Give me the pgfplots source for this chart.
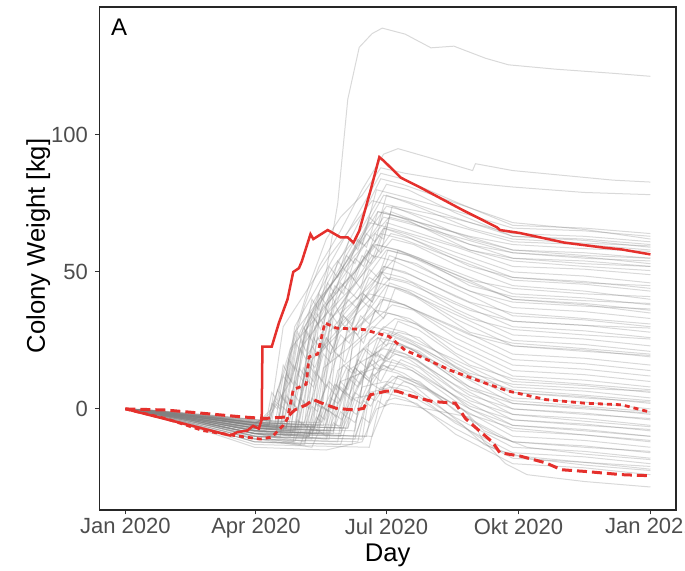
\documentclass[border=0pt]{standalone}
\usepackage{fontspec}
\setmainfont{Liberation Sans}
\usepackage{pgfplots}
\pgfplotsset{compat=1.18}
\definecolor{redline}{HTML}{E5302C}
\definecolor{ticktext}{HTML}{4D4D4D}
\pgfplotsset{gl/.style={color=black!50, line width=0.5pt, opacity=0.3, mark=none}}
\begin{document}
\begin{tikzpicture}
\begin{axis}[
  width=288.35pt, height=251.5pt, scale only axis,
  xmin=-18.2, xmax=383.8, ymin=-36.9, ymax=146.7,
  xtick={0,91,182,274,366},
  xticklabels={Jan 2020,Apr 2020,Jul 2020,Okt 2020,Jan 2021},
  ytick={0,50,100},
  tick align=outside, tick pos=left, major tick length=2.2pt,
  tick style={black!80, line width=0.5pt},
  axis line style={black!85, line width=0.6pt},
  ticklabel style={font=\fontsize{11}{13}\selectfont, text=ticktext},
  xticklabel style={yshift=1.5pt},
  /pgf/number format/assume math mode=true,
  xlabel={Day}, ylabel={Colony Weight [kg]},
  every axis x label/.style={at={(axis description cs:0.5,0)}, yshift=-22.5pt, anchor=center, font=\fontsize{12.8}{15}\selectfont},
  every axis y label/.style={at={(axis description cs:0,0.525)}, xshift=-30.5pt, rotate=90, anchor=center, font=\fontsize{12.8}{15}\selectfont},
]
% individual colonies
\addplot[gl] coordinates {(0,0)(30,-2)(60,-3)(90,-5)(100,-3)(115,10)(130,35)(140,50)(148,75)(155,113)(163,132)(172,137)(179,139)(195,136.8)(213,131.8)(229,132.4)(251,128)(267,125.6)(300,124)(340,122.5)(366,121.4)};
\addplot[gl] coordinates {(0,0)(30,-1.5)(60,-3.5)(90,-5.5)(100,-2)(112,15)(125,38)(135,52)(150,65)(165,80)(180,93)(190,95)(210,92)(242,87)(244,89.5)(270,87)(310,85)(340,83.5)(366,82.8)};
\addplot[gl] coordinates {(0,0)(30,-2)(60,-4)(90,-6)(102,0)(115,22)(128,45)(140,62)(150,70)(165,78)(178,88)(195,86)(230,83)(270,81)(320,79)(366,78.2)};
\addplot[gl] coordinates {(0,0)(20,-1.2)(45,-2.7)(70,-4.5)(90,-6)(105,-7)(110,7)(115,20)(130,38)(145,52)(160,62)(165,60)(175,80)(190,78)(230,72.3)(270,66)(320,65)(366,63)};
\addplot[gl] coordinates {(0,0)(20,-1.4)(45,-3.2)(70,-5.3)(90,-7)(110,-8)(115,8.5)(120,25)(149,54)(178,84)(193,82)(230,75.2)(270,68)(320,65.5)(366,62)};
\addplot[gl] coordinates {(0,0)(20,-1)(45,-2.3)(70,-3.8)(90,-5)(100,-6)(105,12)(110,30)(141,55)(172,76)(187,74)(230,69.4)(270,64)(320,63)(366,61)};
\addplot[gl] coordinates {(0,0)(20,-1.6)(45,-3.6)(70,-6)(90,-8)(115,-9)(120,10.5)(125,30)(152,52)(180,78)(195,76)(230,69.8)(270,63)(320,62)(366,60)};
\addplot[gl] coordinates {(0,0)(20,-1.2)(45,-2.7)(70,-4.5)(90,-6)(120,-7)(125,14)(130,35)(156,55)(182,74)(197,72)(230,66.9)(270,61)(320,60)(366,58)};
\addplot[gl] coordinates {(0,0)(20,-1.8)(45,-4)(70,-6.8)(90,-9)(108,-10)(113,9)(118,28)(147,48)(176,72)(191,70)(230,64.3)(270,58)(320,57)(366,55)};
\addplot[gl] coordinates {(0,0)(20,-0.8)(45,-1.8)(70,-3)(90,-4)(125,-5)(130,17.5)(135,40)(160,56)(184,70)(199,68)(230,61.8)(270,55)(320,54)(366,52)};
\addplot[gl] coordinates {(0,0)(20,-1.4)(45,-3.2)(70,-5.3)(90,-7)(118,-8)(123,8.5)(128,25)(149,47)(170,68)(185,66)(230,59.2)(270,52)(320,51)(366,49)};
\addplot[gl] coordinates {(0,0)(20,-2)(45,-4.5)(70,-7.5)(90,-10)(130,-11)(135,13.5)(140,38)(160,50)(180,66)(195,64)(230,57.2)(270,50)(320,48.5)(366,46)};
\addplot[gl] coordinates {(0,0)(20,-1.2)(45,-2.7)(70,-4.5)(90,-6)(112,-7)(117,7.5)(122,22)(150,42)(178,64)(193,62)(230,54.7)(270,47)(320,45.5)(366,43)};
\addplot[gl] coordinates {(0,0)(20,-1.6)(45,-3.6)(70,-6)(90,-8)(122,-9)(127,10.5)(132,30)(159,45)(186,62)(201,60)(230,52.7)(270,45)(320,43)(366,40)};
\addplot[gl] coordinates {(0,0)(20,-1)(45,-2.3)(70,-3.8)(90,-5)(135,-6)(140,18.5)(145,42)(160,50)(175,60)(190,58)(230,50.1)(270,42)(320,40.5)(366,38)};
\addplot[gl] coordinates {(0,0)(20,-1.8)(45,-4)(70,-6.8)(90,-9)(128,-10)(133,10)(138,30)(160,42)(182,58)(197,56)(230,48.1)(270,40)(320,38)(366,35)};
\addplot[gl] coordinates {(0,0)(20,-1.4)(45,-3.2)(70,-5.3)(90,-7)(140,-8)(145,13.5)(150,35)(169,44)(188,55)(203,53)(230,45.1)(270,37)(320,35.5)(366,33)};
\addplot[gl] coordinates {(0,0)(20,-2.2)(45,-5)(70,-8.3)(90,-11)(117,-12)(122,4)(127,20)(150,38)(172,56)(187,54)(230,43.9)(270,34)(320,32.5)(366,30)};
\addplot[gl] coordinates {(0,0)(20,-1.2)(45,-2.7)(70,-4.5)(90,-6)(132,-7)(137,10.5)(142,28)(161,40)(180,52)(195,50)(230,41)(270,32)(320,30.5)(366,28)};
\addplot[gl] coordinates {(0,0)(20,-1.6)(45,-3.6)(70,-6)(90,-8)(145,-9)(150,11.5)(155,32)(166,40)(178,50)(193,48)(230,39)(270,30)(320,28.5)(366,26)};
\addplot[gl] coordinates {(0,0)(20,-2.4)(45,-5.4)(70,-9)(90,-12)(125,-13)(130,3.5)(135,20)(160,34)(185,48)(200,46)(230,36.5)(270,27)(320,25.5)(366,23)};
\addplot[gl] coordinates {(0,0)(20,-1)(45,-2.3)(70,-3.8)(90,-5)(138,-6)(143,12)(148,30)(162,38)(176,46)(191,44)(230,34.5)(270,25)(320,23.5)(366,21)};
\addplot[gl] coordinates {(0,0)(20,-1.8)(45,-4)(70,-6.8)(90,-9)(150,-10)(155,10)(160,30)(171,37)(182,45)(197,43)(230,32.9)(270,23)(320,21.5)(366,19)};
\addplot[gl] coordinates {(0,0)(20,-1.4)(45,-3.2)(70,-5.3)(90,-7)(120,-8)(125,5)(130,18)(150,30)(170,42)(185,40)(230,29.9)(270,20)(320,18.5)(366,16)};
\addplot[gl] coordinates {(0,0)(20,-2)(45,-4.5)(70,-7.5)(90,-10)(142,-11)(147,7)(152,25)(166,32)(180,40)(195,38)(230,27.9)(270,18)(320,16.5)(366,14)};
\addplot[gl] coordinates {(0,0)(20,-1.2)(45,-2.7)(70,-4.5)(90,-6)(155,-7)(160,10.5)(165,28)(175,33)(186,38)(201,36)(230,25.9)(270,16)(320,14.5)(366,12)};
\addplot[gl] coordinates {(0,0)(20,-1.6)(45,-3.6)(70,-6)(90,-8)(133,-9)(138,5.5)(143,20)(159,28)(175,36)(190,34)(230,23.9)(270,14)(320,12.5)(366,10)};
\addplot[gl] coordinates {(0,0)(20,-2.2)(45,-5)(70,-8.3)(90,-11)(148,-12)(153,5)(158,22)(170,28)(183,35)(198,33)(230,22.4)(270,12)(320,10.5)(366,8)};
\addplot[gl] coordinates {(0,0)(20,-1.4)(45,-3.2)(70,-5.3)(90,-7)(160,-8)(165,8.5)(170,25)(179,29)(188,33)(203,31)(230,20.4)(270,10)(320,8.5)(366,6)};
\addplot[gl] coordinates {(0,0)(20,-1.8)(45,-4)(70,-6.8)(90,-9)(128,-10)(133,2.5)(138,15)(155,22)(172,30)(187,28)(230,17.9)(270,8)(320,6.5)(366,4)};
\addplot[gl] coordinates {(0,0)(20,-1.2)(45,-2.7)(70,-4.5)(90,-6)(152,-7)(157,6.5)(162,20)(171,25)(180,30)(195,28)(230,16.8)(270,6)(320,4.5)(366,2)};
\addplot[gl] coordinates {(0,0)(20,-2)(45,-4.5)(70,-7.5)(90,-10)(165,-11)(170,5.5)(175,22)(182,25)(190,28)(205,26)(230,15.2)(270,4)(320,2.5)(366,0)};
\addplot[gl] coordinates {(0,0)(20,-1.6)(45,-3.6)(70,-6)(90,-8)(138,-9)(143,2.5)(148,14)(162,20)(176,26)(191,24)(230,13.3)(270,2)(320,0.5)(366,-2)};
\addplot[gl] coordinates {(0,0)(20,-2.4)(45,-5.4)(70,-9)(90,-12)(158,-13)(163,2.5)(168,18)(176,21)(184,24)(199,22)(230,10.8)(270,0)(320,-1.5)(366,-4)};
\addplot[gl] coordinates {(0,0)(20,-1.4)(45,-3.2)(70,-5.3)(90,-7)(145,-8)(150,3)(155,14)(167,18)(180,22)(195,20)(230,8.8)(270,-2)(320,-3.5)(366,-6)};
\addplot[gl] coordinates {(0,0)(20,-1.8)(45,-4)(70,-6.8)(90,-9)(168,-10)(173,3)(178,16)(183,18)(188,20)(203,18)(230,6.8)(270,-4)(320,-5.5)(366,-8)};
\addplot[gl] coordinates {(0,0)(20,-1)(45,-2.3)(70,-3.8)(90,-5)(150,-6)(155,3)(160,12)(169,15)(178,18)(193,16)(230,4.8)(270,-6)(320,-7.5)(366,-10)};
\addplot[gl] coordinates {(0,0)(20,-2.2)(45,-5)(70,-8.3)(90,-11)(162,-12)(167,0)(172,12)(178,14)(185,16)(200,14)(230,2.8)(270,-8)(320,-9.5)(366,-12)};
\addplot[gl] coordinates {(0,0)(20,-1.6)(45,-3.6)(70,-6)(90,-8)(140,-9)(145,0.5)(150,10)(162,12.5)(175,15)(190,13)(230,1.3)(270,-10)(320,-11.5)(366,-14)};
\addplot[gl] coordinates {(0,0)(20,-2.6)(45,-5.9)(70,-9.8)(90,-13)(170,-14)(175,-3)(180,8)(185,10)(190,12)(205,10)(230,-0.8)(270,-12)(320,-13.5)(366,-16)};
\addplot[gl] coordinates {(0,0)(20,-1.2)(45,-2.7)(70,-4.5)(90,-6)(155,-7)(160,0.5)(165,8)(173,9)(182,10)(197,8)(230,-3.2)(270,-14)(320,-15.5)(366,-18)};
\addplot[gl] coordinates {(0,0)(20,-2)(45,-4.5)(70,-7.5)(90,-10)(160,-11)(165,-2.5)(170,6)(178,7)(186,8)(201,6)(230,-5.2)(270,-16)(320,-17.5)(366,-20)};
\addplot[gl] coordinates {(0,0)(20,-2.4)(45,-5.4)(70,-9)(90,-12)(150,-13)(155,-4.5)(160,4)(170,5)(180,6)(195,4)(230,-7.2)(270,-18)(320,-19.5)(366,-22)};
\addplot[gl] coordinates {(0,0)(20,-1.8)(45,-4)(70,-6.8)(90,-9)(172,-10)(177,-3.5)(182,3)(185,3.5)(188,4)(203,2)(230,-9.2)(270,-20)(320,-21.5)(366,-24)};
\addplot[gl] coordinates {(0,0)(20,-2.8)(45,-6.3)(70,-10.5)(90,-14)(140,-15)(165,-12)(175,0)(185,2)(200,1)(240,-3)(250,-12)(265,-20)(280,-24)(320,-26.5)(366,-28.5)};
\addplot[gl] coordinates {(0,0)(20,-1.2)(45,-2.7)(70,-4.5)(90,-6)(108,-7)(113,11.5)(118,30)(148,58)(178,86)(193,84)(230,75.6)(270,67)(320,66)(366,64)};
\addplot[gl] coordinates {(0,0)(20,-1.4)(45,-3.2)(70,-5.3)(90,-7)(115,-8)(120,10)(125,28)(153,55)(182,82)(197,80)(230,71.6)(270,63)(320,61.5)(366,59)};
\addplot[gl] coordinates {(0,0)(20,-1)(45,-2.3)(70,-3.8)(90,-5)(126,-6)(131,15)(136,36)(158,53)(180,70)(195,68)(230,62.9)(270,57)(320,55.5)(366,53)};
\addplot[gl] coordinates {(0,0)(20,-1.6)(45,-3.6)(70,-6)(90,-8)(135,-9)(140,12.5)(145,34)(165,49)(185,64)(200,62)(230,55.7)(270,48)(320,46.5)(366,44)};
\addplot[gl] coordinates {(0,0)(20,-1.8)(45,-4)(70,-6.8)(90,-9)(105,-10)(110,6)(115,22)(145,41)(174,60)(189,58)(230,49)(270,40)(320,38.5)(366,36)};
% colonies with stepwise growth
\addplot[gl] coordinates {(0,0)(15,-0.5)(40,-2)(65,-3.5)(92,-5)(100,-6)(104,2)(108,0)(113,12)(117,9)(122,22)(126,18)(132,33)(136,29)(143,42)(147,38)(155,50)(160,47)(168,58)(174,55)(182,68)(200,65)(240,58)(270,54)(320,52)(366,50.5)};
\addplot[gl] coordinates {(0,0)(15,-0.8)(40,-2.5)(65,-4)(92,-6.5)(105,-7.5)(109,1)(113,-1)(118,10)(122,7)(128,18)(132,15)(140,26)(145,22)(152,34)(158,30)(166,42)(172,39)(180,52)(198,49)(240,39)(270,35)(320,33)(366,31)};
\addplot[gl] coordinates {(0,0)(15,-0.3)(40,-1.5)(65,-2.5)(92,-4)(110,-5)(114,4)(118,1)(124,15)(128,12)(134,26)(139,22)(146,38)(150,34)(158,48)(164,44)(172,60)(178,57)(185,72)(200,69)(240,60)(270,57)(320,55)(366,54)};
\addplot[gl] coordinates {(0,0)(15,-1)(40,-3)(65,-5)(92,-8)(115,-10)(120,-4)(124,-6)(130,4)(134,1)(142,10)(147,7)(155,16)(160,13)(168,22)(175,19)(184,28)(198,25)(240,12)(270,7)(320,5)(366,3)};
\addplot[gl] coordinates {(0,0)(15,-0.6)(40,-2)(65,-3)(92,-5.5)(120,-6.5)(124,3)(128,0)(135,12)(140,8)(148,20)(153,17)(160,28)(166,24)(174,36)(180,33)(188,44)(202,41)(240,28)(270,24)(320,22)(366,20)};
\addplot[gl] coordinates {(0,0)(15,-1.2)(40,-3.5)(65,-6)(92,-9)(125,-12)(130,-6)(134,-8)(140,0)(145,-2)(152,6)(158,3)(166,12)(172,9)(180,16)(186,14)(192,18)(205,15)(240,0)(270,-6)(320,-8)(366,-10)};
\addplot[gl] coordinates {(0,0)(15,-0.4)(40,-1.8)(65,-3)(92,-4.5)(98,-5)(102,6)(106,3)(110,16)(114,12)(120,28)(124,24)(130,40)(135,36)(142,52)(148,48)(156,62)(162,58)(170,70)(176,67)(182,78)(198,75)(240,66)(270,62)(320,60.5)(366,59.5)};
\addplot[gl] coordinates {(0,0)(15,-0.9)(40,-2.6)(65,-4.2)(92,-7)(130,-9)(135,-2)(139,-4)(145,6)(150,3)(158,12)(164,9)(172,18)(178,15)(186,22)(200,19)(240,5)(270,0)(320,-2)(366,-3.5)};
\addplot[gl] coordinates {(0,0)(15,-0.5)(40,-2)(65,-3.8)(92,-6)(112,-7)(116,3)(120,0)(126,14)(131,10)(138,24)(143,20)(150,32)(156,28)(164,40)(170,37)(178,50)(184,47)(190,58)(205,55)(240,45)(270,41)(320,39.5)(366,38.5)};
\addplot[gl] coordinates {(0,0)(15,-1.1)(40,-3.2)(65,-5.5)(92,-8.5)(140,-11)(145,-5)(150,-7)(156,0)(161,-2)(168,5)(174,3)(182,9)(188,7)(194,10)(210,7)(240,-4)(260,-10)(280,-14)(320,-16.5)(366,-18.5)};
\addplot[gl] coordinates {(0,0)(15,-0.7)(40,-2.3)(65,-3.6)(92,-5.8)(100,-6.5)(104,3)(108,1)(112,13)(116,10)(122,25)(126,21)(133,35)(138,31)(146,45)(152,42)(160,55)(166,52)(174,64)(180,62)(186,74)(200,71)(240,62)(270,58)(320,56)(366,55)};
\addplot[gl] coordinates {(0,0)(15,-0.5)(40,-1.6)(65,-2.8)(92,-4.2)(135,-5)(140,2)(144,0)(150,10)(155,7)(162,18)(168,15)(176,26)(182,23)(190,32)(204,29)(240,16)(270,11)(320,9)(366,7)};
\addplot[gl] coordinates {(0,0)(15,-1.3)(40,-3.8)(65,-6.5)(92,-10)(122,-13)(127,-6)(131,-8)(137,1)(142,-1)(150,8)(156,5)(164,14)(170,11)(178,20)(184,18)(190,24)(205,21)(240,8)(270,3)(320,1)(366,-1)};
\addplot[gl] coordinates {(0,0)(15,-0.6)(40,-2.1)(65,-3.4)(92,-5.2)(104,-6)(108,5)(112,2)(117,16)(121,13)(127,28)(131,24)(138,38)(143,34)(150,46)(156,43)(165,56)(171,53)(180,66)(196,63)(240,52)(270,48)(320,46)(366,45)};
\addplot[gl] coordinates {(0,0)(15,-0.9)(40,-2.8)(65,-4.5)(92,-7.2)(150,-9)(155,-3)(160,-5)(166,3)(171,1)(178,8)(184,6)(190,12)(205,9)(235,0)(250,-8)(270,-12)(320,-14)(366,-15.5)};
\addplot[gl] coordinates {(0,0)(15,-0.4)(40,-1.7)(65,-3.1)(92,-4.8)(118,-5.5)(122,4)(126,1)(132,14)(137,10)(144,22)(149,19)(156,30)(162,27)(170,38)(176,35)(184,46)(200,43)(240,33)(270,29)(320,27)(366,25.5)};
\addplot[gl] coordinates {(0,0)(15,-1)(40,-3)(65,-5.2)(92,-8)(128,-10)(133,-3)(137,-5)(143,4)(148,2)(156,11)(162,8)(170,17)(176,14)(184,21)(198,18)(240,3)(270,-2)(320,-4.5)(366,-6.5)};
\addplot[gl] coordinates {(0,0)(15,-0.5)(40,-1.9)(65,-3.2)(92,-5)(108,-6)(112,5)(116,2)(121,15)(125,12)(131,26)(136,22)(143,35)(148,31)(156,43)(162,40)(170,51)(176,48)(183,58)(198,56)(240,47)(270,44)(320,42)(366,41)};
\addplot[gl] coordinates {(0,0)(15,-0.8)(40,-2.4)(65,-4)(92,-6.4)(145,-8)(150,-1)(154,-3)(160,6)(165,4)(172,13)(178,10)(186,18)(200,15)(240,1)(270,-4)(320,-6)(366,-7.5)};
\addplot[gl] coordinates {(0,0)(15,-0.3)(40,-1.4)(65,-2.6)(92,-4)(102,-4.5)(106,7)(110,4)(114,18)(118,14)(124,30)(128,26)(135,42)(140,38)(148,54)(154,50)(162,62)(168,59)(176,72)(192,70)(240,63)(270,60)(320,58.5)(366,57.5)};
\addplot[gl] coordinates {(0,0)(15,-1.4)(40,-4)(65,-7)(92,-11)(130,-14)(135,-8)(140,-10)(146,-2)(151,-4)(158,4)(164,2)(172,9)(178,7)(186,12)(200,9)(240,-8)(260,-15)(280,-18)(320,-20.5)(366,-22.5)};
\addplot[gl] coordinates {(0,0)(15,-0.6)(40,-2.2)(65,-3.7)(92,-6)(125,-7)(130,1)(134,-1)(140,9)(145,6)(152,16)(158,13)(166,22)(172,19)(180,28)(195,25)(240,13)(270,9)(320,7.5)(366,6.5)};
\addplot[gl] coordinates {(0,0)(15,-0.7)(40,-2.4)(65,-4)(92,-6.2)(112,-7)(116,2)(120,0)(126,11)(131,8)(138,20)(143,17)(150,27)(156,24)(164,34)(170,31)(178,40)(194,38)(240,27)(270,23)(320,21)(366,19.5)};
\addplot[gl] coordinates {(0,0)(15,-1)(40,-2.9)(65,-5)(92,-7.8)(160,-10)(165,-3)(170,-5)(176,3)(181,1)(187,7)(202,4)(235,-6)(250,-13)(270,-17)(320,-19.5)(366,-21)};
\addplot[gl] coordinates {(0,0)(15,-0.5)(40,-1.8)(65,-3.3)(92,-5.3)(106,-6)(110,4)(114,1)(120,13)(124,10)(130,23)(135,19)(142,32)(147,28)(155,40)(161,37)(170,48)(176,46)(184,56)(200,53)(240,43)(270,39)(320,37.5)(366,36.5)};
\addplot[gl] coordinates {(0,0)(15,-0.8)(40,-2.5)(65,-4.2)(92,-6.7)(138,-8)(143,-1)(147,-3)(153,6)(158,4)(165,12)(171,10)(179,16)(194,13)(240,-2)(270,-7)(320,-9.5)(366,-11.5)};
\addplot[gl] coordinates {(0,0)(15,-0.4)(40,-1.6)(65,-3)(92,-4.6)(114,-5.5)(118,5)(122,2)(128,16)(133,12)(140,26)(145,22)(152,34)(158,31)(166,42)(172,39)(180,48)(196,46)(240,36)(270,32)(320,30.5)(366,29.5)};
\addplot[gl] coordinates {(0,0)(15,-1.2)(40,-3.5)(65,-6)(92,-9.2)(118,-12)(123,-5)(127,-7)(133,2)(138,0)(146,9)(152,6)(160,15)(166,12)(174,21)(180,18)(188,26)(202,23)(240,11)(270,6)(320,4)(366,2.5)};
\addplot[gl] coordinates {(0,0)(15,-0.6)(40,-2)(65,-3.5)(92,-5.6)(132,-6.5)(137,1)(141,-1)(147,9)(152,6)(160,15)(166,12)(174,20)(180,18)(188,24)(203,21)(240,7)(270,2)(320,0)(366,-1.5)};
\addplot[gl] coordinates {(0,0)(15,-0.9)(40,-2.7)(65,-4.6)(92,-7.3)(98,-8)(102,2)(106,0)(110,12)(114,9)(119,24)(123,20)(129,35)(134,31)(141,46)(146,42)(154,56)(160,53)(168,64)(174,61)(180,72)(196,69)(240,58)(270,55)(320,53)(366,52)};
% summary lines
\addplot[redline, line width=1.25pt, mark=none] coordinates {(0,0)(73,-9.7)(78,-8.5)(85,-7.9)(89,-6.2)(93,-7.2)(95,-4)(95.5,22.7)(102,22.7)(107,31.4)(113,40)(117,50)(121,51.4)(123,53.9)(129,63.8)(131,62)(141,65.3)(150,62.6)(155,62.6)(159,60.7)(163,65)(171,80)(177,91.9)(180,90.6)(192,84.4)(206,80.7)(235,72.6)(259,66.3)(261,65.3)(275,64.2)(306,60.7)(333,58.9)(346,58.2)(366,56.4)};
\addplot[redline, line width=1.4pt, mark=none, dash pattern=on 2.5pt off 2pt] coordinates {(0,0)(28,-3.5)(54,-7.9)(76,-9.7)(94,-11)(102,-10.3)(110,-6)(113,-3.5)(117,7)(126,9)(128,19)(134,20)(139,31.4)(147,29.5)(166,29)(184,26.4)(195,21.4)(206,19)(227,14)(253,9)(267,6.5)(293,3.4)(320,2.1)(346,1.5)(366,-1.2)};
\addplot[redline, line width=1.5pt, mark=none, dash pattern=on 5pt off 2.5pt] coordinates {(0,0)(28,-0.4)(54,-1.6)(81,-2.9)(97,-3.5)(113,-2.9)(118,-0.4)(126,1.5)(131,3.4)(137,2.1)(147,0.2)(160,-0.4)(166,0.2)(171,5.2)(182,6.5)(189,6.5)(200,4.6)(214,2.7)(230,2.1)(237,-3.5)(245,-7.2)(256,-12.2)(261,-16)(275,-17.2)(293,-19.7)(304,-22.2)(320,-22.8)(346,-24)(366,-24.4)};
\node[font=\fontsize{12}{14}\selectfont, anchor=center] at (rel axis cs:0,1) [xshift=9.9pt, yshift=-10pt] {A};
\end{axis}
\pgfresetboundingbox
\path[use as bounding box] ([xshift=-49.65pt,yshift=-30pt]current axis.south west) rectangle ([xshift=4.5pt,yshift=3.5pt]current axis.north east);
\end{tikzpicture}
\end{document}
